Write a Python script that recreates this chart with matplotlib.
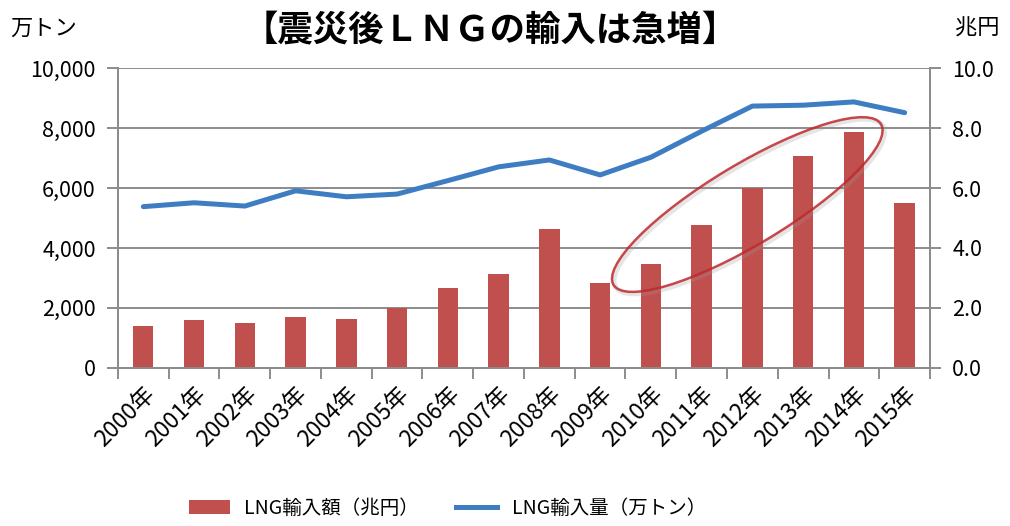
import matplotlib.pyplot as plt
from matplotlib.patches import Ellipse, Patch
from matplotlib.lines import Line2D
from matplotlib.transforms import IdentityTransform
from matplotlib.ticker import FuncFormatter

plt.rcParams["font.family"] = ["Noto Sans CJK JP", "DejaVu Sans"]

# data
years = [f"{y}年" for y in range(2000, 2016)]
import_value = [1.39, 1.59, 1.48, 1.68, 1.64, 1.98, 2.65, 3.13, 4.64,
                2.82, 3.46, 4.78, 6.01, 7.06, 7.86, 5.50]          # 兆円
import_volume = [5380, 5510, 5400, 5910, 5710, 5800, 6250, 6710, 6940,
                 6440, 7030, 7900, 8740, 8770, 8880, 8520]          # 万トン

red = "#C0504D"
blue = "#3F7DC2"
gray = "#8C8C8C"

fig = plt.figure(figsize=(10.1, 5.26), dpi=100)
ax = fig.add_axes([0.1168, 0.301, 0.804, 0.569])
ax2 = ax.twinx()

x = list(range(len(years)))

# line on left axis (万トン)
ax.plot(x, import_volume, color=blue, linewidth=3.6, solid_capstyle="round", zorder=3)
ax.set_ylim(0, 10000)
ax.set_yticks(range(0, 10001, 2000))
ax.yaxis.set_major_formatter(FuncFormatter(lambda v, p: f"{int(v):,}"))
ax.set_xlim(-0.5, len(years) - 0.5)
ax.grid(axis="y", color=gray, linewidth=1.4)
ax.set_axisbelow(True)

# bars on right axis (兆円)
ax2.bar(x, import_value, width=0.4, color=red, zorder=2)
ax2.set_ylim(0, 10)
ax2.set_yticks(range(0, 11, 2))
ax2.yaxis.set_major_formatter(FuncFormatter(lambda v, p: f"{v:.1f}"))

# x ticks at category boundaries, labels at centers
ax.set_xticks([i - 0.5 for i in range(len(years) + 1)])
ax.set_xticklabels([])
ax.set_xticks(x, minor=True)
ax.set_xticklabels(years, minor=True, rotation=45, ha="right", va="top",
                   rotation_mode="anchor", fontsize=16.5)
ax.tick_params(axis="x", which="minor", length=0, pad=11)
ax.tick_params(axis="x", which="major", length=8, width=1.4, color=gray)
ax.tick_params(axis="y", length=8, width=1.4, color=gray, labelsize=15.5, pad=8)
ax2.tick_params(axis="y", length=8, width=1.4, color=gray, labelsize=15.5, pad=8)

for a in (ax, ax2):
    a.spines["top"].set_visible(False)
    for s in ("left", "right", "bottom"):
        a.spines[s].set_color(gray)
        a.spines[s].set_linewidth(1.4)

# ellipse highlight around 2010-2014 bars
fig.canvas.draw()
cx, cy = ax2.transData.transform((11.9, 5.45))
shadow = Ellipse((cx + 2, cy - 2), 312, 80, angle=31, transform=IdentityTransform(),
                 fill=False, edgecolor="#999999", linewidth=3.5, alpha=0.25, zorder=5)
ring = Ellipse((cx, cy), 312, 80, angle=31, transform=IdentityTransform(),
               fill=False, edgecolor="#C0282D", linewidth=1.8, alpha=0.85, zorder=6)
fig.patches.extend([shadow, ring])

fig.text(0.485, 0.943, "【震災後ＬＮＧの輸入は急増】", ha="center", va="center",
         fontsize=25.5, fontweight="bold")
fig.text(0.01, 0.946, "万トン", ha="left", va="center", fontsize=16)
fig.text(0.99, 0.946, "兆円", ha="right", va="center", fontsize=16)

handles = [Patch(facecolor=red), Line2D([0], [0], color=blue, linewidth=3.6)]
fig.legend(handles, ["LNG輸入額（兆円）", "LNG輸入量（万トン）"], loc="center",
           bbox_to_anchor=(0.443, 1 - 508 / 526), ncol=2, frameon=False, fontsize=14,
           handlelength=2.1, handletextpad=0.75, columnspacing=1.9)

fig.savefig("out.png", dpi=100)
